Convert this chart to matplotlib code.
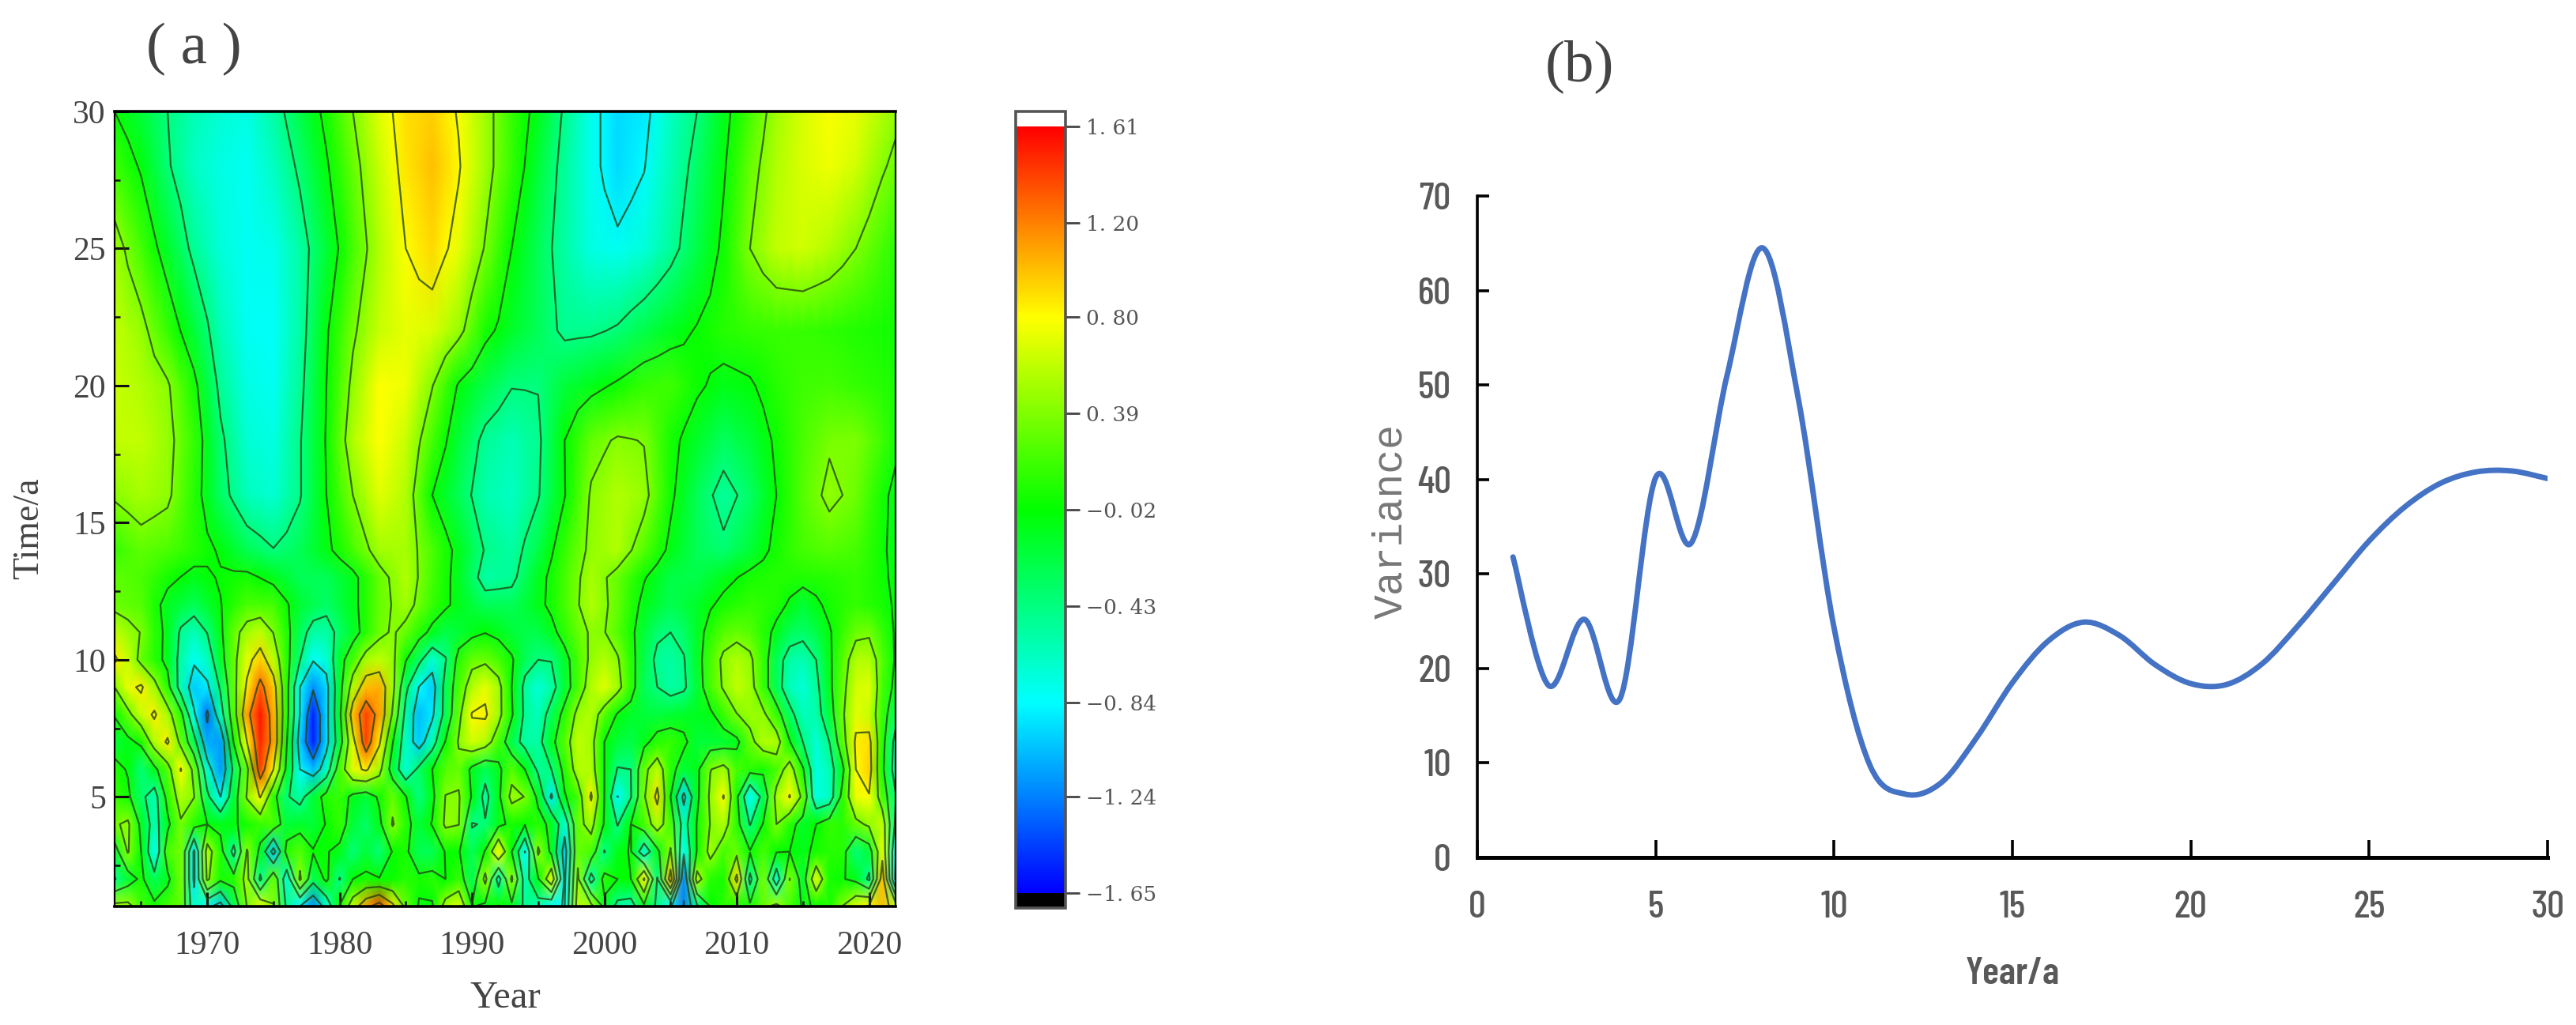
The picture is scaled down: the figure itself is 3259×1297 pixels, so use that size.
import numpy as np
import matplotlib
matplotlib.use("Agg")
import matplotlib.pyplot as plt
from matplotlib.colors import LinearSegmentedColormap, Normalize
from matplotlib.cm import ScalarMappable
from matplotlib.path import Path
from matplotlib.patches import PathPatch
from matplotlib.ticker import MultipleLocator

W, H = 3259, 1297
years = np.arange(1963, 2023)
years_coarse = np.array(list(range(1963, 2022, 2)) + [2022])

t1 = [0.5,0.5,0.2,0.05,0.2,0.3,-0.7,-0.75,-1.0,-0.3,0.4,0.7,0.4,-0.5,-0.85,-1.2,-0.7,0.0,0.6,1.1,1.4,0.9,0.3,-0.05,-0.05,0.55,0.7,0.0,-0.1,0.0,
      -0.1,-0.5,-0.6,-0.8,-0.85,0.6,0.5,-0.1,-0.55,-0.6,-0.1,-0.5,-0.8,-1.25,-0.5,-0.02,0.1,0.1,0.05,0.3,0.5,0.2,-0.05,0.0,0.05,0.4,0.7,0.85,1.0,0.6]
t2 = [-0.45,-0.2,0.05,-0.3,-0.1,0.35,-0.9,0.45,0.05,0.1,0.5,-0.5,0.3,-0.7,0.45,-0.3,0.05,-0.45,-0.02,0.05,0.0,0.0,0.1,0.05,0.1,-0.02,0.15,-0.3,0.5,-0.6,
      0.45,-0.6,-0.05,0.7,-0.9,0.45,-0.6,0.1,-0.02,-0.02,0.85,-0.45,1.0,-1.2,0.55,0.1,0.05,0.9,-0.55,0.35,-0.7,0.4,-0.2,0.7,0.05,0.0,-0.1,-0.5,1.0,-0.9]
t3 = [-0.2,0.42,-0.02,-0.8,0.2,0.35,-0.9,0.55,0.1,-0.55,0.42,-0.1,-1.0,0.1,0.25,0.0,0.0,-0.1,-0.4,-0.2,-0.4,0.0,0.05,-0.3,-0.3,0.0,0.0,-0.3,0.0,0.8,
      -0.02,-0.85,0.45,-0.1,-1.0,0.3,0.2,-0.45,-0.1,0.0,-0.7,-0.1,0.42,-0.8,0.0,0.5,0.2,0.3,0.0,0.2,0.0,-0.02,-0.1,0.05,0.1,0.1,-0.4,-0.2,0.7,-0.8]
t4 = [0.35,0.45,-0.1,-0.6,-0.1,0.35,0.1,-0.02,-0.1,-0.05,0.05,0.15,0.2,-0.2,-0.15,-0.2,0.0,0.15,-0.2,-0.35,-0.1,0.42,0.1,-0.2,0.0,0.45,0.4,-0.45,-0.4,-0.1,
      0.05,0.0,0.1,-0.1,-0.7,0.3,0.5,-0.05,-0.45,-0.02,0.2,0.55,0.2,-0.6,0.0,0.4,0.55,0.1,-0.45,0.0,0.39,0.1,-0.15,-0.02,0.15,0.1,0.3,0.45,0.6,-0.5]
t5 = [0.15,0.05,-0.35,-0.6,0.1,0.55,0.4,-0.35,-0.85,-0.2,0.42,0.82,0.1,-0.4,-0.55,-0.2,0.1,0.15,-0.1,-0.2,0.03,0.3,0.0,-0.43,-0.1,0.4,0.42,-0.05,-0.55,-0.1,
      0.5,0.38,-0.1,-0.9,-0.05,0.2,0.85,-0.02,-0.85,-0.45,0.35,0.9,-0.02,-0.95,-0.1,0.45,0.82,0.05,-0.84,-0.3,0.5,0.82,0.3,-0.75,-0.65,0.1,0.75,0.78,0.2,-0.4]
t6 = [0.1,-0.05,-0.4,-0.1,0.25,0.82,0.3,-0.7,-1.15,-0.35,0.3,1.4,0.8,-0.1,-0.84,-1.05,-0.65,0.2,0.7,0.85,0.5,-0.2,-0.7,-0.35,-0.02,0.25,0.3,-0.1,-0.3,-0.1,
      0.25,-0.02,-0.5,-0.43,0.1,0.55,0.55,-0.02,-0.45,-0.43,0.3,0.6,0.1,-0.2,-0.1,0.38,0.5,0.2,0.1,0.05,0.2,0.55,0.02,-0.75,-0.6,-0.1,0.8,0.95,0.05,-0.6]
t7 = [-0.2,-0.1,0.05,0.55,0.85,0.3,-0.3,-1.1,-1.15,0.0,0.8,1.5,1.1,0.0,-1.0,-1.55,-0.95,-0.2,0.7,1.4,0.85,0.0,-0.65,-1.0,-0.6,0.0,0.42,0.65,0.55,0.2,
      -0.25,-0.55,-0.55,-0.12,0.25,0.6,0.5,-0.02,-0.2,-0.25,-0.1,0.1,0.15,0.05,-0.2,-0.2,-0.18,-0.1,0.3,0.55,0.55,0.0,-0.43,-0.72,-0.43,0.25,0.85,0.9,0.1,-0.55]
t8 = [0.0,0.3,0.62,0.85,0.52,0.1,-0.8,-1.3,-0.6,0.22,1.1,1.55,1.05,0.1,-0.85,-1.55,-0.95,-0.1,1.0,1.4,1.1,0.35,-0.55,-1.05,-0.9,-0.3,0.3,0.82,0.85,0.5,
      0.02,-0.5,-0.62,-0.3,0.1,0.48,0.55,0.25,-0.05,-0.15,-0.2,-0.22,-0.18,-0.15,-0.12,-0.08,0.15,0.38,0.48,0.45,0.15,-0.33,-0.62,-0.58,-0.2,0.35,0.7,0.62,0.15,-0.3]
t9 = [0.39,0.72,0.85,0.5,0.1,-0.6,-1.0,-0.9,-0.38,0.28,0.85,1.3,0.95,0.1,-0.84,-1.2,-0.95,-0.15,0.55,1.0,1.05,0.5,-0.35,-0.85,-1.0,-0.3,0.2,0.55,0.72,0.5,
      -0.02,-0.52,-0.72,-0.55,-0.2,0.2,0.55,0.7,0.5,0.12,-0.3,-0.43,-0.55,-0.48,-0.2,0.2,0.42,0.6,0.5,0.15,-0.3,-0.62,-0.72,-0.52,-0.1,0.3,0.65,0.7,0.2,-0.1]
t10 = [0.85,0.62,0.3,0.1,-0.1,-0.55,-0.8,-0.65,-0.15,0.3,0.7,0.95,0.6,0.1,-0.42,-0.82,-0.72,-0.15,0.2,0.52,0.6,0.47,0.0,-0.35,-0.7,-0.45,0.1,0.3,0.33,0.2,
       0.02,-0.3,-0.43,-0.42,-0.15,0.2,0.45,0.55,0.42,0.1,-0.25,-0.5,-0.55,-0.45,-0.15,0.2,0.45,0.55,0.45,0.15,-0.3,-0.55,-0.6,-0.43,-0.08,0.25,0.55,0.55,0.25,-0.05]
t11 = [0.6,0.48,0.38,0.12,-0.1,-0.48,-0.62,-0.42,-0.08,0.3,0.5,0.6,0.38,0.08,-0.3,-0.55,-0.55,-0.35,-0.15,0.1,0.32,0.42,0.3,0.1,-0.1,-0.25,-0.2,-0.1,-0.03,-0.1,
       -0.2,-0.25,-0.25,-0.12,0.12,0.3,0.42,0.4,0.25,0.05,-0.2,-0.38,-0.43,-0.35,-0.15,0.1,0.25,0.3,0.25,0.1,-0.1,-0.3,-0.35,-0.25,-0.05,0.15,0.32,0.35,0.15,-0.05]
t12 = [0.32,0.25,-0.12,-0.3,-0.03,0.22,0.2,-0.18,-0.35,-0.1,0.3,0.5,0.15,-0.1,-0.3,-0.3,-0.1,0.2,0.55,0.3,-0.1,-0.28,-0.15,0.05,0.15,0.08,-0.2,0.05,0.15,0.05,-0.05]
t13 = [0.28,0.22,0.05,-0.1,0.0,0.05,-0.1,-0.3,-0.3,-0.1,0.3,0.55,0.2,-0.12,-0.55,-0.5,-0.12,0.2,0.52,0.3,0.0,-0.25,-0.25,-0.1,0.05,0.1,0.08,0.1,0.15,0.03,-0.08]
t14 = [0.15,0.28,0.22,0.1,-0.05,-0.28,-0.42,-0.3,-0.08,0.2,0.5,0.52,0.22,-0.1,-0.45,-0.55,-0.25,0.15,0.45,0.55,0.25,-0.08,-0.3,-0.38,-0.2,0.05,0.2,0.25,0.2,0.02,-0.1]
t16 = [0.42,0.52,0.44,0.1,-0.33,-0.62,-0.7,-0.45,-0.02,0.39,0.7,0.55,-0.02,-0.3,-0.58,-0.65,-0.45,-0.03,0.42,0.55,0.47,0.03,-0.3,-0.52,-0.35,-0.02,0.25,0.45,0.33,0.05,-0.1]
t18 = [0.6,0.6,0.47,0.15,-0.38,-0.7,-0.75,-0.45,0.0,0.55,0.8,0.62,0.2,-0.2,-0.5,-0.6,-0.48,-0.02,0.3,0.42,0.38,0.05,-0.15,-0.32,-0.2,0.02,0.22,0.36,0.38,0.18,0.05]
t20 = [0.62,0.55,0.42,0.05,-0.5,-0.75,-0.8,-0.5,-0.02,0.45,0.8,0.75,0.4,-0.05,-0.25,-0.42,-0.42,-0.2,-0.1,0.02,0.15,0.18,0.02,-0.1,-0.05,0.1,0.18,0.2,0.15,0.1,0.06]
t22 = [0.6,0.47,0.15,-0.2,-0.6,-0.8,-0.82,-0.55,-0.05,0.35,0.62,0.72,0.68,0.47,0.05,-0.15,-0.3,-0.48,-0.47,-0.4,-0.25,-0.12,0.0,0.1,0.14,0.16,0.15,0.12,0.08,0.05,0.03]
t25 = [0.5,0.2,-0.15,-0.5,-0.72,-0.8,-0.78,-0.55,-0.2,0.2,0.55,0.8,0.92,0.72,0.37,-0.02,-0.3,-0.55,-0.75,-0.8,-0.72,-0.52,-0.25,0.03,0.39,0.6,0.65,0.55,0.39,0.2,0.12]
t28 = [0.18,-0.05,-0.4,-0.65,-0.75,-0.8,-0.65,-0.38,-0.05,0.3,0.62,0.88,1.0,0.82,0.5,0.15,-0.2,-0.52,-0.78,-0.95,-0.85,-0.6,-0.35,-0.05,0.3,0.55,0.68,0.75,0.65,0.42,0.33]
t30 = [-0.02,-0.2,-0.43,-0.6,-0.7,-0.75,-0.55,-0.25,0.05,0.39,0.7,0.9,0.95,0.78,0.5,0.15,-0.1,-0.47,-0.78,-0.95,-0.9,-0.65,-0.43,-0.1,0.2,0.5,0.68,0.78,0.72,0.55,0.45]

fine_rows = [t1, t2, t3, t4, t5, t6, t7, t8, t9, t10, t11]
fine_times = [1, 2, 3, 4, 5, 6, 7, 8, 9, 10, 11]
coarse_rows = [t12, t13, t14, t16, t18, t20, t22, t25, t28, t30]
coarse_times = [12, 13, 14, 16, 18, 20, 22, 25, 28, 30]

cbar_ticks = [1.61, 1.20, 0.80, 0.39, -0.02, -0.43, -0.84, -1.24, -1.65]
cbar_labels = ["1. 61", "1. 20", "0. 80", "0. 39", "\u22120. 02", "\u22120. 43", "\u22120. 84", "\u22121. 24", "\u22121. 65"]
line_levels = [-1.24, -0.84, -0.43, -0.02, 0.39, 0.80, 1.20]

period = list(range(1, 31))
variance = [31.8, 18.2, 25.2, 16.8, 40.2, 33.3, 51.0, 64.5, 48.5, 24.3, 9.8, 6.7, 7.9, 12.7, 18.5,
            22.9, 24.9, 23.5, 20.4, 18.4, 18.3, 20.5, 24.5, 29.0, 33.5, 37.1, 39.6, 40.8, 40.9, 40.1]

def box(l, t, r, b):
    return [l / W, 1 - b / H, (r - l) / W, (b - t) / H]

dim = "#444444"
SERIF = ["Liberation Serif", "DejaVu Serif"]
NARROW = ["Barlow Condensed", "Liberation Sans", "DejaVu Sans"]

fig = plt.figure(figsize=(W / 100, H / 100), dpi=100, facecolor="white")

Z = np.array([np.asarray(r, float) for r in fine_rows]
             + [np.interp(years, years_coarse, r) for r in coarse_rows])
T = np.array(fine_times + coarse_times)

cmap = LinearSegmentedColormap.from_list(
    "wave",
    [(0.0, "#0000ff"), (0.248, "#00ffff"), (0.5, "#00ff00"), (0.752, "#ffff00"), (1.0, "#ff0000")],
    N=512)
cmap = cmap.copy()
cmap.set_under("black")
cmap.set_over("white")
norm = Normalize(-1.65, 1.61)

ax = fig.add_axes(box(145, 141, 1133, 1147))
ax.pcolormesh(years, T, Z, cmap=cmap, norm=norm, shading="gouraud", rasterized=True)
ax.contour(years, T, Z, levels=line_levels, colors=[(0.14, 0.26, 0.08)], linewidths=1.6,
           linestyles="solid", alpha=0.8)
ax.set_xlim(1963, 2022)
ax.set_ylim(1, 30)
ax.xaxis.set_major_locator(MultipleLocator(10))
ax.xaxis.set_minor_locator(MultipleLocator(5))
ax.yaxis.set_major_locator(MultipleLocator(5))
ax.yaxis.set_minor_locator(MultipleLocator(2.5))
ax.tick_params(which="major", direction="in", length=13, width=2.2, color="#111111",
               labelsize=30, labelcolor=dim, pad=8)
ax.tick_params(axis="x", which="major", pad=22)
ax.tick_params(which="minor", direction="in", length=5, width=1.8, color="#111111")
for lab in ax.get_xticklabels() + ax.get_yticklabels():
    lab.set_family(SERIF)
for side, lw in (("top", 2.6), ("bottom", 2.6), ("left", 1.6), ("right", 1.6)):
    ax.spines[side].set_linewidth(lw)
ax.set_xlabel("Year", family=SERIF, fontsize=35, color=dim, labelpad=18)
fig.text(37 / W, 1 - 669 / H, "Time/a", family=SERIF, fontsize=33, color=dim,
         rotation=90, ha="center", va="center")
fig.text(245 / W, 1 - 62 / H, "( a )", family=SERIF, fontsize=54, color=dim, ha="center", va="center")

cax = fig.add_axes(box(1285, 141, 1348, 1149))
cb = fig.colorbar(ScalarMappable(norm=norm, cmap=cmap), cax=cax, extend="both",
                  extendrect=True, extendfrac=0.02)
cb.set_ticks(cbar_ticks)
cb.set_ticklabels(cbar_labels)
cb.minorticks_off()
cb.outline.set_edgecolor("#555555")
cb.outline.set_linewidth(2.6)
cb.ax.tick_params(length=13, width=2, color="#444444", labelsize=19, labelcolor="#555555", pad=6)
for lab in cb.ax.get_yticklabels():
    lab.set_family(["DejaVu Serif"])

bx = fig.add_axes(box(1869, 248, 3223, 1085))
xs = np.asarray(period, float)
ys = np.asarray(variance, float)
verts = [(xs[0], ys[0])]
codes = [Path.MOVETO]
for i in range(len(xs) - 1):
    i0 = max(i - 1, 0)
    i3 = min(i + 2, len(xs) - 1)
    c1 = (xs[i] + (xs[i + 1] - xs[i0]) / 6, ys[i] + (ys[i + 1] - ys[i0]) / 6)
    c2 = (xs[i + 1] - (xs[i3] - xs[i]) / 6, ys[i + 1] - (ys[i3] - ys[i]) / 6)
    verts += [c1, c2, (xs[i + 1], ys[i + 1])]
    codes += [Path.CURVE4] * 3
bx.add_patch(PathPatch(Path(verts, codes), facecolor="none", edgecolor="#4472C4",
                       linewidth=5, capstyle="round"))
bx.set_xlim(0, 30)
bx.set_ylim(0, 70)
bx.set_xticks(range(0, 31, 5))
bx.set_yticks(range(0, 71, 10))
bx.spines["top"].set_visible(False)
bx.spines["right"].set_visible(False)
bx.spines["left"].set_linewidth(2.6)
bx.spines["bottom"].set_linewidth(3.6)
bx.tick_params(axis="x", direction="in", length=16, width=2.6, labelsize=35, labelcolor="#595959", pad=30)
bx.tick_params(axis="y", direction="in", length=11, width=2.6, labelsize=35, labelcolor="#595959", pad=24)
for lab in bx.get_xticklabels() + bx.get_yticklabels():
    lab.set_family(NARROW)
    lab.set_weight("medium")
bx.set_xlabel("Year/a", family=NARROW, fontsize=35, fontweight="semibold", color="#595959", labelpad=30)
fig.text(1760 / W, 1 - 660 / H, "Variance", family=["Liberation Mono", "DejaVu Sans Mono"], fontsize=37,
         color="#777777", rotation=90, ha="center", va="center")
fig.text(1998 / W, 1 - 84 / H, "(b)", family=SERIF, fontsize=54, color=dim, ha="center", va="center")

fig.savefig("out.png", dpi=100, facecolor="white")
